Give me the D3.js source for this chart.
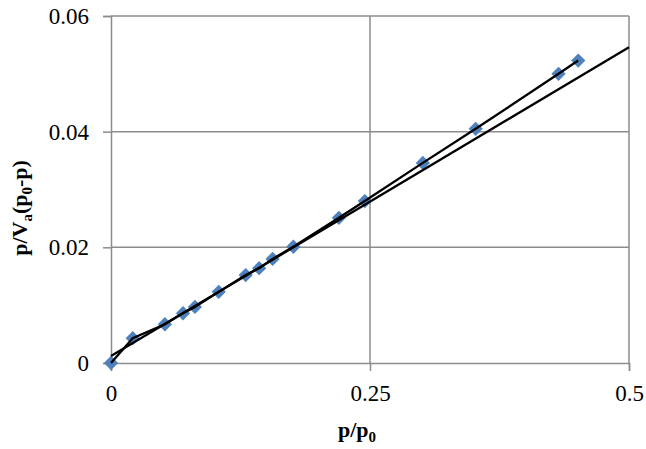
<!DOCTYPE html>
<html>
<head>
<meta charset="utf-8">
<script src="https://cdn.jsdelivr.net/npm/d3@7"></script>
<style>
  body { margin: 0; background: #fff; }
  svg { display: block; font-family: "Liberation Serif", "Times New Roman", serif; }
</style>
</head>
<body>
<svg width="646" height="449"></svg>
<script>
// measured points (p/p0, p/Va(p0-p))
var relP = [0, 0.021, 0.052, 0.0695, 0.081, 0.104, 0.130, 0.143, 0.156, 0.176, 0.220, 0.245, 0.301, 0.352, 0.432, 0.451];
var bet = [0, 0.0043, 0.0067, 0.0086, 0.0097, 0.0123, 0.0152, 0.0164, 0.0180, 0.0201, 0.0251, 0.0280, 0.0346, 0.0405, 0.0500, 0.0523];

// linear fit line end points
var fitX = [0, 0.5];
var fitY = [0.0012, 0.0546];

var xTicks = [0, 0.25, 0.5];
var yTicks = [0, 0.02, 0.04, 0.06];

var svg = d3.select('svg');
var margin = {left: 111, top: 16, right: 17, bottom: 86};
var width = 646 - margin.left - margin.right;
var height = 449 - margin.top - margin.bottom;

var g = svg.append("g")
    .attr("transform", "translate(" + margin.left + "," + margin.top + ")");

var x = d3.scaleLinear().domain([0, 0.5]).range([0, width]);
var y = d3.scaleLinear().domain([0, 0.06]).range([height, 0]);

var grey = "#8c8c8c";

// gridlines
g.selectAll(".hgrid")
    .data(yTicks.slice(1))
    .enter().append("line")
    .attr("x1", 0).attr("x2", width)
    .attr("y1", function(d) { return y(d); })
    .attr("y2", function(d) { return y(d); })
    .attr("stroke", grey).attr("stroke-width", 1.5);

g.selectAll(".vgrid")
    .data(xTicks.slice(1))
    .enter().append("line")
    .attr("y1", 0).attr("y2", height)
    .attr("x1", function(d) { return x(d); })
    .attr("x2", function(d) { return x(d); })
    .attr("stroke", grey).attr("stroke-width", 1.5);

// axes
var fmt = function(d) { return d === 0 ? "0" : String(d); };

var xAxis = g.append("g")
    .attr("transform", "translate(0," + height + ")")
    .call(d3.axisBottom(x).tickValues(xTicks).tickFormat(fmt).tickSize(8).tickPadding(14));

var yAxis = g.append("g")
    .call(d3.axisLeft(y).tickValues(yTicks).tickFormat(fmt).tickSize(8).tickPadding(14));

[xAxis, yAxis].forEach(function(a) {
    a.select(".domain").attr("stroke", grey).attr("stroke-width", 1.5);
    a.selectAll(".tick line").attr("stroke", grey).attr("stroke-width", 1.5);
    a.selectAll(".tick text")
        .attr("fill", "#000")
        .style("font-family", "'Liberation Serif', serif")
        .style("font-size", "23px");
});

// connecting line
var pts = relP.map(function(d, i) { return [d, bet[i]]; });
var line = d3.line()
    .x(function(d) { return x(d[0]); })
    .y(function(d) { return y(d[1]); });

// markers
g.selectAll(".pt")
    .data(pts)
    .enter().append("path")
    .attr("d", d3.symbol().type(d3.symbolDiamond2).size(130))
    .attr("transform", function(d) { return "translate(" + x(d[0]) + "," + y(d[1]) + ")"; })
    .attr("fill", "#4f81bd");

g.append("path")
    .datum(pts)
    .attr("d", line)
    .attr("fill", "none")
    .attr("stroke", "#000")
    .attr("stroke-width", 2.3);

// trend line
g.append("path")
    .datum(fitX.map(function(d, i) { return [d, fitY[i]]; }))
    .attr("d", line)
    .attr("fill", "none")
    .attr("stroke", "#000")
    .attr("stroke-width", 2.3);

// axis titles
var xt = svg.append("text")
    .attr("x", 357).attr("y", 437)
    .attr("text-anchor", "middle")
    .style("font-size", "22px").style("font-weight", "bold");
xt.append("tspan").text("p/p");
xt.append("tspan").attr("dy", 5).style("font-size", "15px").text("0");

var yt = svg.append("text")
    .attr("transform", "translate(27,208) rotate(-90)")
    .attr("text-anchor", "middle")
    .style("font-size", "22px").style("font-weight", "bold");
yt.append("tspan").text("p/V");
yt.append("tspan").attr("dy", 5).style("font-size", "15px").text("a");
yt.append("tspan").attr("dy", -5).text("(p");
yt.append("tspan").attr("dy", 5).style("font-size", "15px").text("0");
yt.append("tspan").attr("dy", -5).text("-p)");
</script>
</body>
</html>
